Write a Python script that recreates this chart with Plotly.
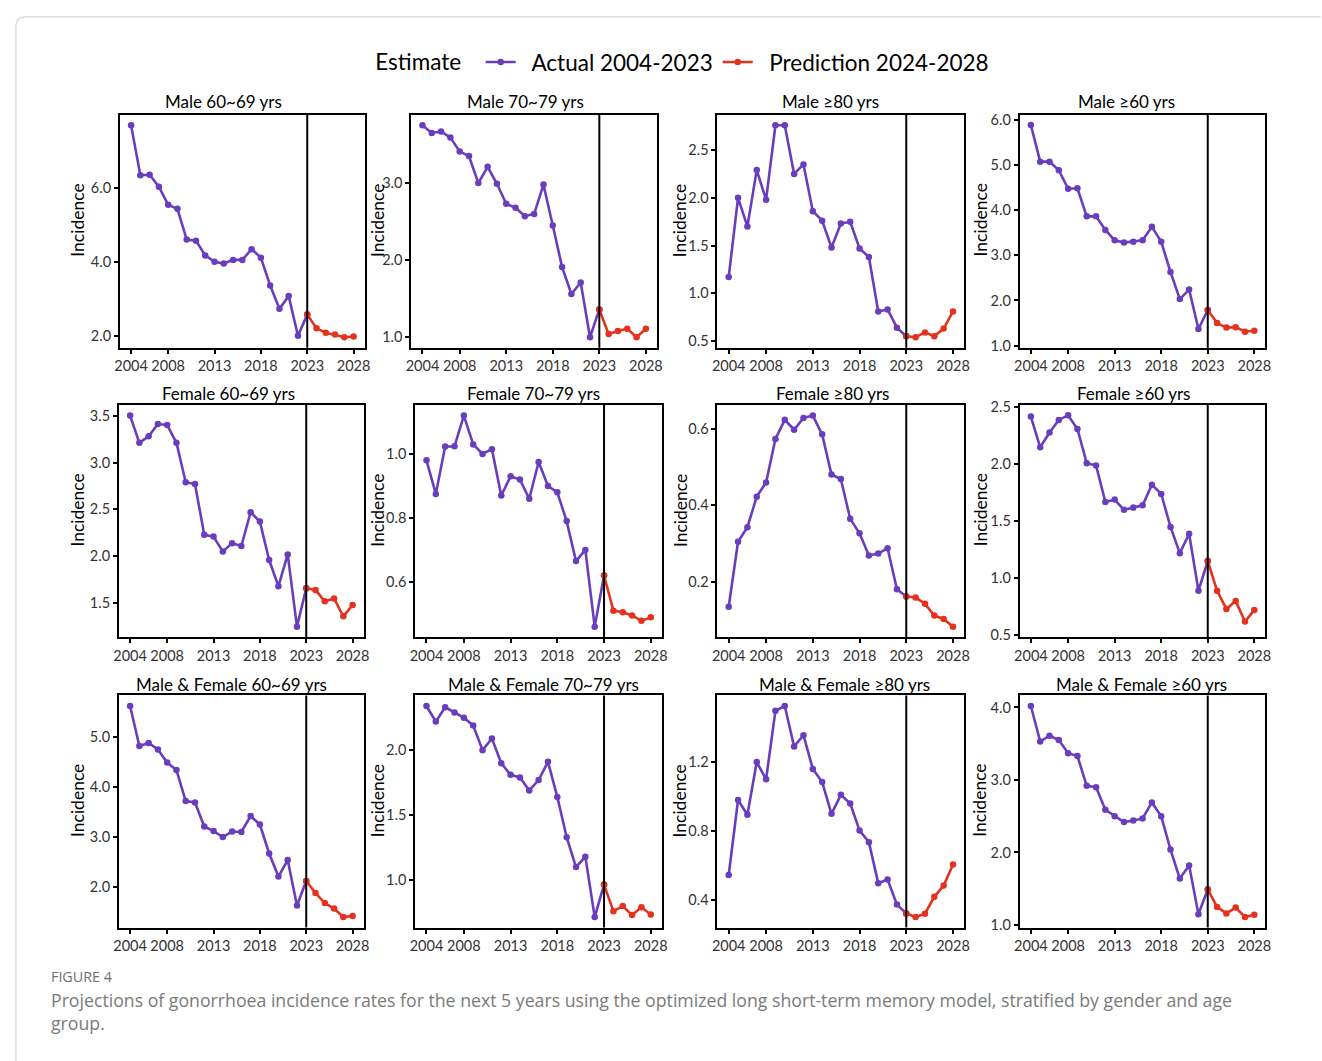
import plotly.graph_objects as go

# ---------------- data ----------------
years_actual = list(range(2004, 2024))
years_pred = list(range(2023, 2029))
xtick_years = [2004, 2008, 2013, 2018, 2023, 2028]

panel_titles = [
    "Male 60~69 yrs", "Male 70~79 yrs", "Male ≥80 yrs", "Male ≥60 yrs",
    "Female 60~69 yrs", "Female 70~79 yrs", "Female ≥80 yrs", "Female ≥60 yrs",
    "Male & Female 60~69 yrs", "Male & Female 70~79 yrs",
    "Male & Female ≥80 yrs", "Male & Female ≥60 yrs",
]

# actual incidence 2004-2023
male_60_69 = [7.70, 6.35, 6.36, 6.04, 5.55, 5.44, 4.61, 4.58, 4.18, 4.01,
              3.96, 4.06, 4.06, 4.35, 4.12, 3.37, 2.74, 3.08, 2.01, 2.58]
male_70_79 = [3.75, 3.65, 3.67, 3.59, 3.41, 3.35, 3.00, 3.21, 2.99, 2.73,
              2.68, 2.57, 2.60, 2.98, 2.45, 1.91, 1.56, 1.71, 1.00, 1.36]
male_80 = [1.17, 2.00, 1.70, 2.29, 1.98, 2.76, 2.76, 2.25, 2.35, 1.86,
           1.76, 1.48, 1.73, 1.75, 1.47, 1.38, 0.81, 0.83, 0.64, 0.55]
male_60 = [5.88, 5.07, 5.07, 4.88, 4.47, 4.48, 3.86, 3.86, 3.56, 3.33,
           3.28, 3.30, 3.33, 3.63, 3.30, 2.63, 2.03, 2.24, 1.37, 1.79]
female_60_69 = [3.50, 3.21, 3.28, 3.41, 3.40, 3.21, 2.79, 2.77, 2.23, 2.21,
                2.05, 2.14, 2.11, 2.47, 2.37, 1.96, 1.68, 2.02, 1.25, 1.66]
female_70_79 = [0.980, 0.875, 1.023, 1.024, 1.120, 1.030, 1.000, 1.015, 0.870, 0.930,
                0.920, 0.860, 0.975, 0.900, 0.880, 0.790, 0.665, 0.700, 0.460, 0.620]
female_80 = [0.134, 0.304, 0.342, 0.422, 0.459, 0.573, 0.623, 0.597, 0.628, 0.634,
             0.585, 0.480, 0.468, 0.364, 0.326, 0.268, 0.273, 0.287, 0.180, 0.161]
female_60 = [2.42, 2.15, 2.28, 2.39, 2.43, 2.31, 2.01, 1.99, 1.67, 1.69,
             1.60, 1.62, 1.64, 1.82, 1.74, 1.45, 1.22, 1.39, 0.89, 1.15]
both_60_69 = [5.62, 4.82, 4.88, 4.75, 4.49, 4.34, 3.72, 3.69, 3.21, 3.12,
              3.00, 3.11, 3.10, 3.42, 3.25, 2.67, 2.21, 2.54, 1.63, 2.12]
both_70_79 = [2.34, 2.22, 2.33, 2.29, 2.25, 2.19, 2.00, 2.09, 1.90, 1.81,
              1.79, 1.69, 1.77, 1.91, 1.64, 1.33, 1.10, 1.18, 0.715, 0.965]
both_80 = [0.546, 0.980, 0.895, 1.200, 1.100, 1.496, 1.524, 1.290, 1.355, 1.160,
           1.084, 0.900, 1.010, 0.960, 0.804, 0.736, 0.499, 0.520, 0.375, 0.324]
both_60 = [4.02, 3.53, 3.61, 3.55, 3.37, 3.33, 2.92, 2.90, 2.59, 2.50,
           2.42, 2.44, 2.47, 2.69, 2.50, 2.04, 1.64, 1.82, 1.15, 1.49]

# predicted incidence 2024-2028
male_60_69_pred = [2.21, 2.09, 2.04, 1.97, 1.99]
male_70_79_pred = [1.04, 1.08, 1.11, 1.00, 1.11]
male_80_pred = [0.54, 0.59, 0.55, 0.63, 0.81]
male_60_pred = [1.50, 1.40, 1.41, 1.31, 1.33]
female_60_69_pred = [1.64, 1.52, 1.55, 1.36, 1.48]
female_70_79_pred = [0.510, 0.505, 0.495, 0.478, 0.489]
female_80_pred = [0.158, 0.142, 0.111, 0.102, 0.082]
female_60_pred = [0.89, 0.73, 0.80, 0.62, 0.72]
both_60_69_pred = [1.88, 1.68, 1.57, 1.40, 1.42]
both_70_79_pred = [0.76, 0.80, 0.73, 0.79, 0.735]
both_80_pred = [0.303, 0.322, 0.420, 0.485, 0.607]
both_60_pred = [1.25, 1.16, 1.24, 1.11, 1.14]

# y tick values per panel
yticks = [
    [2.0, 4.0, 6.0], [1.0, 2.0, 3.0], [0.5, 1.0, 1.5, 2.0, 2.5], [1.0, 2.0, 3.0, 4.0, 5.0, 6.0],
    [1.5, 2.0, 2.5, 3.0, 3.5], [0.6, 0.8, 1.0], [0.2, 0.4, 0.6], [0.5, 1.0, 1.5, 2.0, 2.5],
    [2.0, 3.0, 4.0, 5.0], [1.0, 1.5, 2.0], [0.4, 0.8, 1.2], [1.0, 2.0, 3.0, 4.0],
]

actual_series = [male_60_69, male_70_79, male_80, male_60,
                 female_60_69, female_70_79, female_80, female_60,
                 both_60_69, both_70_79, both_80, both_60]
pred_series = [male_60_69_pred, male_70_79_pred, male_80_pred, male_60_pred,
               female_60_69_pred, female_70_79_pred, female_80_pred, female_60_pred,
               both_60_69_pred, both_70_79_pred, both_80_pred, both_60_pred]

# ---------------- layout geometry (pixels) ----------------
W, H = 1322, 1061


def px(x):
    return x / W


def py(y):
    return 1 - y / H


row_box = [(109, 345), (403, 638), (697, 932)]
col_box = [
    [(115, 362), (409, 657), (718, 967), (1023, 1271)],
    [(114, 361), (413, 662), (718, 967), (1023, 1271)],
    [(114, 361), (413, 662), (718, 967), (1023, 1271)],
]
title_x = [[219, 524, 832, 1131], [225, 532, 834, 1138], [228, 542, 846, 1146]]
title_y = [96, 391, 686]
ylab_x = [72, 375, 680, 983]

PURPLE = "#6A3DBD"
RED = "#E5321F"
FONT = "Lato"
TICK_COLOR = "#333333"
NBSP = "\u00a0"

fig = go.Figure()
annotations = []
shapes = []

for i in range(12):
    r, c = divmod(i, 4)
    n = i + 1
    xa = "x" if n == 1 else f"x{n}"
    ya = "y" if n == 1 else f"y{n}"
    act = actual_series[i]
    pred = [act[-1]] + pred_series[i]

    fig.add_trace(go.Scatter(
        x=years_actual, y=act, mode="lines+markers", name=NBSP * 2 + "Actual 2004-2023",
        line=dict(color=PURPLE, width=2.6), marker=dict(color=PURPLE, size=6.5),
        xaxis=xa, yaxis=ya, legendgroup="actual", showlegend=(i == 0),
    ))
    fig.add_trace(go.Scatter(
        x=years_pred, y=pred, mode="lines+markers", name=NBSP * 2 + "Prediction 2024-2028",
        line=dict(color=RED, width=2.6), marker=dict(color=RED, size=6.5),
        xaxis=xa, yaxis=ya, legendgroup="pred", showlegend=(i == 0),
    ))

    # ggplot-like 5% expansion, widened to keep the extreme tick labels
    allv = act + pred
    lo, hi = min(allv), max(allv)
    pad = 0.05 * (hi - lo)
    ylo = min(lo - pad, min(yticks[i]) - 0.01 * (hi - lo))
    yhi = max(hi + pad, max(yticks[i]) + 0.01 * (hi - lo))

    x0, x1 = col_box[r][c]
    y0, y1 = row_box[r]
    axis_common = dict(
        showline=True, linecolor="black", linewidth=2, mirror=True,
        ticks="outside", ticklen=4, tickwidth=1.5, tickcolor="black",
        showgrid=False, zeroline=False,
        tickfont=dict(family=FONT, size=14.5, color=TICK_COLOR),
    )
    fig.layout[f"xaxis{n if n > 1 else ''}"] = dict(
        domain=[px(x0), px(x1)], anchor=ya, range=[2002.8, 2029.2],
        tickvals=xtick_years, ticktext=[str(v) for v in xtick_years], **axis_common,
    )
    fig.layout[f"yaxis{n if n > 1 else ''}"] = dict(
        domain=[py(y1), py(y0)], anchor=xa, range=[ylo, yhi],
        tickvals=yticks[i], tickformat=".1f", **axis_common,
    )

    # boundary between observed and forecast periods
    shapes.append(dict(
        type="line", xref=xa, yref=f"{ya} domain", x0=2023, x1=2023, y0=0, y1=1,
        line=dict(color="black", width=2),
    ))

    annotations.append(dict(
        text=panel_titles[i], x=px(title_x[r][c]), y=py(title_y[r]),
        xref="paper", yref="paper", showarrow=False, xanchor="center", yanchor="middle",
        font=dict(family=FONT, size=17, color="black"),
    ))
    annotations.append(dict(
        text="Incidence", x=px(ylab_x[c]), y=py((y0 + y1) / 2 - 11),
        xref="paper", yref="paper", showarrow=False, textangle=-90,
        xanchor="center", yanchor="middle",
        font=dict(family=FONT, size=17.5, color="black"),
    ))

# figure caption
annotations.append(dict(
    text="FIGURE 4", x=px(43), y=py(982), xref="paper", yref="paper",
    showarrow=False, xanchor="left", yanchor="middle",
    font=dict(family="Open Sans", size=14.3, color="#707070"),
))
annotations.append(dict(
    text=("Projections of gonorrhoea incidence rates for the next 5 years using the optimized "
          "long short-term memory model, stratified by gender and age<br>group."),
    x=px(43), y=py(1016.5), xref="paper", yref="paper", showarrow=False,
    xanchor="left", yanchor="middle", align="left",
    font=dict(family="Open Sans", size=17.7, color="#7a7a7a"),
))

# light outer frame with a rounded top-left corner
rad = 10
shapes.append(dict(
    type="path", xref="paper", yref="paper",
    path=(f"M {px(10)},{py(W + 5)} L {px(10)},{py(10 + rad)} "
          f"Q {px(10)},{py(10)} {px(10 + rad)},{py(10)} L {px(W + 5)},{py(10)}"),
    line=dict(color="#d4d4d4", width=1.2),
))

fig.update_layout(
    width=W, height=H, margin=dict(l=0, r=0, t=0, b=0),
    paper_bgcolor="white", plot_bgcolor="white",
    font=dict(family=FONT),
    annotations=annotations, shapes=shapes,
    legend=dict(
        orientation="h", x=px(684), xanchor="center", y=py(56), yanchor="middle",
        title=dict(text="Estimate  ", font=dict(family=FONT, size=22.5, color="black")),
        font=dict(family=FONT, size=22.5, color="black"),
        itemwidth=30, bgcolor="rgba(0,0,0,0)",
    ),
)

fig.write_html("out.html")
